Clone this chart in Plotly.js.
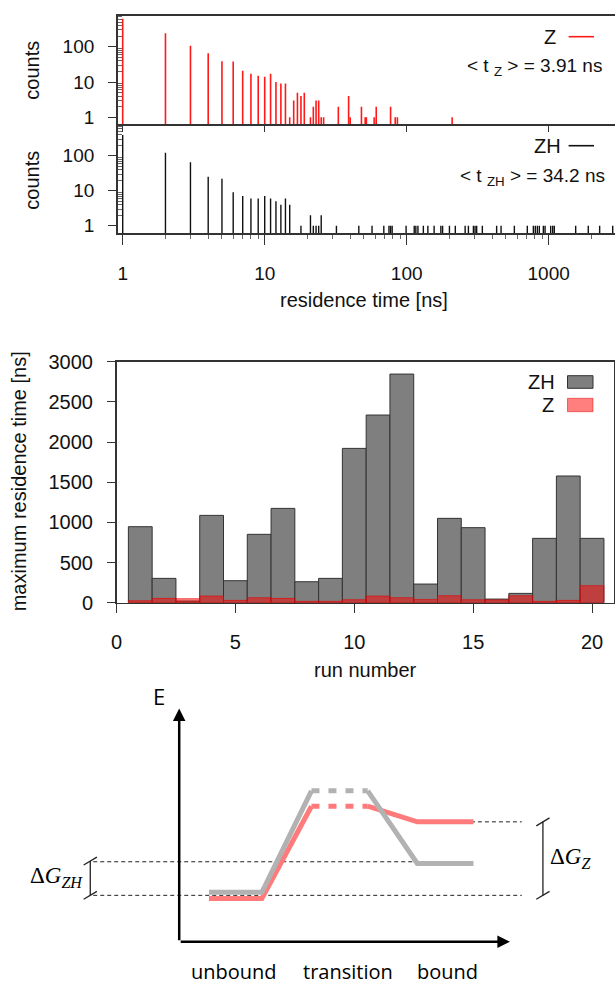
<!DOCTYPE html>
<html>
<head>
<meta charset="utf-8">
<script src="https://cdn.plot.ly/plotly-3.0.1.min.js"></script>
<style>html,body{margin:0;padding:0;background:#fff;}#chart{width:615px;height:984px;}</style>
</head>
<body>
<div id="chart"></div>
<script>
// ---------------- DATA ----------------
// residence-time histogram, Z (counts per residence time in ns)
const zTimes  = [1,2,3,4,5,6,7,8,9,10,11,12,13,14,15,16,17,18,19,21,22,23,24,25,26,33,39,40,48,51,52,59,61,77,83,86,209];
const zCounts = [620,240,107,65,39,38,21,17,15,14,17,10,9,9,1,3,5,4,5,1,2,3,3,1,1,2,4,1,2,1,1,1,2,2,1,1,1];
// residence-time histogram, ZH
const zhTimes  = [1,2,3,4,5,6,7,8,9,10,11,12,13,14,15,18,21,22,23,24,25,
  32,46,57,69,75,77,79,99,113,116,120,131,141,156,174,179,200,220,258,272,295,303,311,341,
  430,462,573,707,780,805,832,859,917,943,1033,1067,1095,1549,1900,2285,2824];
const zhCounts = [390,122,65,25,22,9,7,6,6,7,6,5,4,6,4,1,2,1,1,1,2,
  1,1,1,1,1,1,1,1,1,1,1,1,1,1,1,1,1,1,1,1,1,1,1,1,
  1,1,1,1,1,1,1,1,1,1,1,1,1,1,1,1,1];
const zMeanLabel = "< t <sub>Z</sub> > = 3.91 ns";
const zhMeanLabel = "< t <sub>ZH</sub> > = 34.2 ns";
const histTicks = [1,10,100,1000];
const countTicks = [1,10,100];

// maximum residence time per run
const runs  = [1,2,3,4,5,6,7,8,9,10,11,12,13,14,15,16,17,18,19,20];
const zhMax = [946,303,20,1087,274,851,1174,261,303,1921,2336,2846,232,1050,934,45,116,801,1577,801];
const zMax  = [25,54,50,83,29,62,54,17,17,37,83,62,41,87,37,35,87,17,29,212];
const runTicks = [0,5,10,15,20];
const maxTicks = [0,500,1000,1500,2000,2500,3000];

// schematic free-energy profile
const states      = ["unbound","transition","bound"];
const stateLabelX = [1.65, 5.1, 8.1];
const pathX    = [0.9, 2.5, 4.0, 5.7, 7.2, 8.9];
const zhEnergy = [2.12, 2.12, 6.47, 6.47, 3.36, 3.36];
const zEnergy  = [1.86, 1.86, 5.81, 5.81, 5.14, 5.14];

// ---------------- HELPERS ----------------
const W = 615, H = 984;
const PX = x => x / W;
const PY = y => 1 - y / H;

function stems(ts, cs, floor) {
  const x = [], y = [];
  ts.forEach((t, i) => { x.push(t, t, null); y.push(floor, cs[i], null); });
  return {x, y};
}
function minorLog(maxDec) {
  const v = [];
  for (let d = 0; d <= maxDec; d++) for (let m = 2; m <= 9; m++) v.push(m * Math.pow(10, d));
  return v;
}
function solidPath(e) {
  return {x: [pathX[0], pathX[1], pathX[2], null, pathX[3], pathX[4], pathX[5]],
          y: [e[0], e[1], e[2], null, e[3], e[4], e[5]]};
}
function dotPath(e) { return {x: [pathX[2], pathX[3]], y: [e[2], e[3]]}; }

const FONT = "Liberation Sans, Arial, Helvetica, sans-serif";
const AX = '#333';
const RED = '#ff1a1a';
const GREY_E = 'rgb(178,178,178)';
const RED_E = 'rgb(255,122,122)';

// ---------------- TRACES ----------------
const zS = stems(zTimes, zCounts, 0.3);
const zhS = stems(zhTimes, zhCounts, 0.3);
const refLevel = (zhEnergy[0] + zEnergy[0]) / 2;
const zhBound = zhEnergy[5], zBound = zEnergy[5];

function bracket(X, y0, y1) {
  return {x: [X-0.2, X+0.2, null, X, X, null, X-0.2, X+0.2],
          y: [y0-0.17, y0+0.17, null, y0, y1, null, y1-0.17, y1+0.17]};
}
const bL = bracket(-2.69, refLevel, zhBound + 0.1);
const bR = bracket(11.0, refLevel, zBound);

const traces = [
  {type:'scatter', mode:'lines', x:zS.x, y:zS.y, xaxis:'x', yaxis:'y', line:{color:RED, width:1.6}, hoverinfo:'skip'},
  {type:'scatter', mode:'lines', x:zhS.x, y:zhS.y, xaxis:'x2', yaxis:'y2', line:{color:'#111', width:1.4}, hoverinfo:'skip'},
  {type:'bar', x:runs, y:zhMax, width:1, xaxis:'x3', yaxis:'y3', marker:{color:'#7f7f7f', line:{color:'#333', width:1}}},
  {type:'bar', x:runs, y:zMax, width:1, xaxis:'x3', yaxis:'y3', marker:{color:'rgba(255,0,0,0.5)', line:{color:'rgba(230,0,0,0.6)', width:1}}},
  // energy diagram guides
  {type:'scatter', mode:'lines', x:[-2.6, 10.36], y:[refLevel, refLevel], xaxis:'x4', yaxis:'y4', line:{color:'#222', width:1, dash:'4px,3px'}},
  {type:'scatter', mode:'lines', x:[-2.6, pathX[4]], y:[zhBound+0.07, zhBound+0.07], xaxis:'x4', yaxis:'y4', line:{color:'#222', width:1, dash:'4px,3px'}},
  {type:'scatter', mode:'lines', x:[8.4, 10.36], y:[zBound, zBound], xaxis:'x4', yaxis:'y4', line:{color:'#222', width:1, dash:'4px,3px'}},
  {type:'scatter', mode:'lines', x:bL.x, y:bL.y, xaxis:'x4', yaxis:'y4', line:{color:'#222', width:1.3}},
  {type:'scatter', mode:'lines', x:bR.x, y:bR.y, xaxis:'x4', yaxis:'y4', line:{color:'#222', width:1.3}},
  // profiles (red under grey)
  Object.assign({type:'scatter', mode:'lines', xaxis:'x4', yaxis:'y4', line:{color:RED_E, width:5}}, solidPath(zEnergy)),
  Object.assign({type:'scatter', mode:'lines', xaxis:'x4', yaxis:'y4', line:{color:RED_E, width:5, dash:'8px,9px'}}, dotPath(zEnergy)),
  Object.assign({type:'scatter', mode:'lines', xaxis:'x4', yaxis:'y4', line:{color:GREY_E, width:5}}, solidPath(zhEnergy)),
  Object.assign({type:'scatter', mode:'lines', xaxis:'x4', yaxis:'y4', line:{color:GREY_E, width:5, dash:'8px,9px'}}, dotPath(zhEnergy))
];

// ---------------- LAYOUT ----------------
const logX = {type:'log', range:[-0.036, 3.467], domain:[PX(117.6), 1], showgrid:false, zeroline:false,
  showline:true, linecolor:AX, linewidth:1.5, tickvals:histTicks, ticktext:histTicks.map(String),
  tickcolor:AX, tickfont:{size:19, color:'#111'}};
const logY = {type:'log', showgrid:false, zeroline:false, showline:true, linecolor:AX, linewidth:1.5,
  tickvals:countTicks, ticktext:countTicks.map(String), ticks:'outside', ticklen:8, tickcolor:AX,
  tickfont:{size:19, color:'#111'}, ticklabelstandoff:10,
  minor:{tickvals:minorLog(2), ticks:'inside', ticklen:4, tickcolor:'#666'}};

function pa(x, y, text, opts) {
  return Object.assign({xref:'paper', yref:'paper', x:PX(x), y:PY(y), text:text, showarrow:false,
    xanchor:'center', yanchor:'middle'}, opts || {});
}
function da(x, y, text, font) {
  return {xref:'x4', yref:'y4', x:x, y:y, text:text, showarrow:false, xanchor:'center', yanchor:'middle', font:font};
}
const sansE = {family:'Open Sans, sans-serif', size:20, color:'#000'};
const serifE = {family:'Liberation Serif, serif', size:23, color:'#000'};

const layout = {
  width:W, height:H, margin:{l:0, r:0, t:0, b:0}, showlegend:false,
  paper_bgcolor:'#fff', plot_bgcolor:'rgba(0,0,0,0)', barmode:'overlay',
  font:{family:FONT, size:19, color:'#111'},
  xaxis: Object.assign({}, logX, {anchor:'y', showticklabels:false, ticks:'outside', ticklen:6, mirror:true}),
  yaxis: Object.assign({}, logY, {anchor:'x', range:[-0.198, 2.878], domain:[PY(124.3), PY(15.7)]}),
  xaxis2: Object.assign({}, logX, {anchor:'y2', ticks:'outside', ticklen:10, ticklabelstandoff:12,
     minor:{tickvals:minorLog(3), ticks:'outside', ticklen:4, tickcolor:'#666'}}),
  yaxis2: Object.assign({}, logY, {anchor:'x2', range:[-0.217, 2.897], domain:[PY(233.3), PY(124.3)]}),
  xaxis3: {anchor:'y3', domain:[PX(116.5), PX(613.7)], range:[0, 20.91], tickvals:runTicks, ticks:'outside',
     ticklen:9, tickcolor:AX, showline:true, mirror:true, linecolor:AX, linewidth:1.5, showgrid:false, zeroline:false,
     tickfont:{size:20, color:'#111'}, ticklabelstandoff:12},
  yaxis3: {anchor:'x3', domain:[PY(602.7), PY(361.7)], range:[0, 3000], tickvals:maxTicks, ticks:'outside',
     ticklen:8, tickcolor:AX, showline:true, mirror:true, linecolor:AX, linewidth:1.5, showgrid:false, zeroline:false,
     tickfont:{size:20, color:'#111'}, ticklabelstandoff:10},
  xaxis4: {anchor:'y4', domain:[0, 1], range:[-5.42, 13.18], visible:false, fixedrange:true},
  yaxis4: {anchor:'x4', domain:[0, PY(680)], range:[-1.81, 11.22], visible:false, fixedrange:true},
  shapes: [
    {type:'line', xref:'paper', yref:'paper', x0:PX(568.6), x1:PX(594), y0:PY(36.7), y1:PY(36.7), line:{color:RED, width:1.6}},
    {type:'line', xref:'paper', yref:'paper', x0:PX(568.6), x1:PX(594), y0:PY(145.7), y1:PY(145.7), line:{color:'#111', width:1.6}},
    {type:'rect', xref:'paper', yref:'paper', x0:PX(567.5), x1:PX(593), y0:PY(388.3), y1:PY(375.7), fillcolor:'#7f7f7f', line:{color:'#333', width:1}},
    {type:'rect', xref:'paper', yref:'paper', x0:PX(567.5), x1:PX(593), y0:PY(411.7), y1:PY(398.3), fillcolor:'rgba(255,0,0,0.5)', line:{color:'rgba(230,0,0,0.5)', width:1}}
  ],
  annotations: [
    pa(31.7, 70, 'counts', {textangle:-90, font:{size:20}}),
    pa(31.7, 180, 'counts', {textangle:-90, font:{size:20}}),
    pa(363.7, 300, 'residence time [ns]', {font:{size:20}}),
    pa(558, 36.7, 'Z', {xanchor:'right', font:{size:20}}),
    pa(604, 66.7, zMeanLabel, {xanchor:'right', font:{size:19}}),
    pa(563, 145.7, 'ZH', {xanchor:'right', font:{size:20}}),
    pa(607, 176.7, zhMeanLabel, {xanchor:'right', font:{size:19}}),
    pa(18.6, 481.7, 'maximum residence time [ns]', {textangle:-90, font:{size:20}}),
    pa(365.7, 670, 'run number', {font:{size:20}}),
    pa(557, 381.7, 'ZH', {xanchor:'right', font:{size:20}}),
    pa(556, 405, 'Z', {xanchor:'right', font:{size:20}}),
    // energy diagram
    {xref:'x4', yref:'y4', axref:'x4', ayref:'y4', x:0, y:10, ax:0, ay:0, text:'', showarrow:true, arrowhead:2, arrowsize:1, arrowwidth:2.5, arrowcolor:'#000'},
    {xref:'x4', yref:'y4', axref:'x4', ayref:'y4', x:10, y:0, ax:0, ay:0, text:'', showarrow:true, arrowhead:2, arrowsize:1, arrowwidth:2.5, arrowcolor:'#000'},
    da(-0.62, 10.55, 'E', {family:'Open Sans, sans-serif', size:22, color:'#000'}),
    da(stateLabelX[0], -1.27, states[0], sansE),
    da(stateLabelX[1], -1.27, states[1], sansE),
    da(stateLabelX[2], -1.27, states[2], sansE),
    da(-3.70, 2.78, 'Δ<i>G</i><sub><i>ZH</i></sub>', serifE),
    da(11.84, 3.57, 'Δ<i>G</i><sub><i>Z</i></sub>', serifE)
  ]
};

Plotly.newPlot('chart', traces, layout, {staticPlot:true, displayModeBar:false});
</script>
</body>
</html>
